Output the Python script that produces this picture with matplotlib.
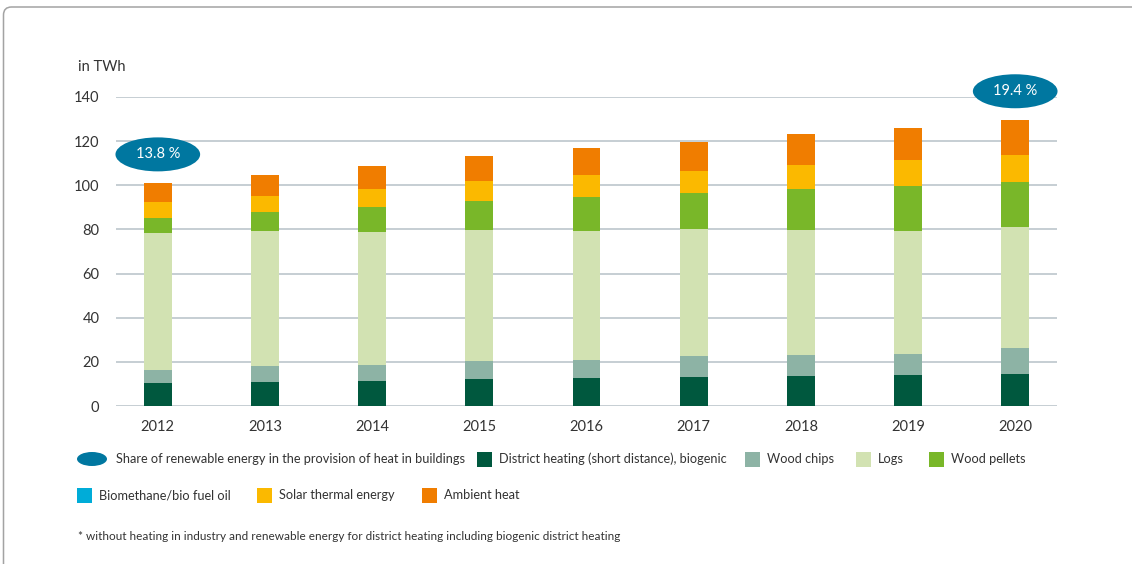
import numpy as np
import matplotlib.pyplot as plt
from matplotlib.patches import Ellipse, FancyBboxPatch, Rectangle

plt.rcParams["font.family"] = ["Lato", "DejaVu Sans"]

# renewable heat in buildings, TWh per year
years = ["2012", "2013", "2014", "2015", "2016", "2017", "2018", "2019", "2020"]
district_heating = [10.6, 10.9, 11.5, 12.2, 12.8, 13.3, 13.7, 14.2, 14.6]
wood_chips = [5.7, 7.2, 7.1, 8.2, 7.9, 9.5, 9.6, 9.2, 11.8]
logs = [62.2, 61.3, 60.3, 59.4, 58.5, 57.6, 56.5, 55.8, 54.6]
wood_pellets = [6.9, 8.3, 11.3, 13.2, 15.7, 15.9, 18.5, 20.6, 20.6]
biomethane = [0, 0, 0, 0, 0, 0, 0, 0, 0]
solar_thermal = [6.9, 7.5, 8.2, 9.0, 9.7, 10.3, 11.0, 11.6, 12.2]
ambient_heat = [8.7, 9.4, 10.4, 11.4, 12.1, 13.1, 13.9, 14.7, 15.8]

# share of renewables in heat provision, shown on first and last year
share_years = ["2012", "2020"]
share_values = [13.8, 19.4]

series = [
    ("District heating (short distance), biogenic", district_heating, "#00583e"),
    ("Wood chips", wood_chips, "#8db3a5"),
    ("Logs", logs, "#d2e2b2"),
    ("Wood pellets", wood_pellets, "#79b729"),
    ("Biomethane/bio fuel oil", biomethane, "#00acd8"),
    ("Solar thermal energy", solar_thermal, "#fbb900"),
    ("Ambient heat", ambient_heat, "#f07d00"),
]

TEXT = "#333333"
GRID = "#c6ced3"
BLUE = "#0077a0"

W, H = 1132, 564
fig = plt.figure(figsize=(W / 100, H / 100), dpi=100)


def fx(px):
    return px / W


def fy(py):
    return 1 - py / H


ax = fig.add_axes([fx(116), fy(406), fx(1057) - fx(116), fy(97) - fy(406)])

x = np.arange(len(years))
bottom = np.zeros(len(years))
for name, vals, color in series:
    vals = np.array(vals, dtype=float)
    ax.bar(x, vals, width=0.26, bottom=bottom, color=color, zorder=3)
    bottom += vals

ax.set_xlim(-0.39, len(years) - 1 + 0.39)
ax.set_ylim(0, 140)
ax.set_yticks(np.arange(0, 141, 20))
ax.set_xticks(x)
ax.set_xticklabels(years)
ax.grid(axis="y", color=GRID, linewidth=1.4, zorder=0)
ax.tick_params(length=0, labelsize=10.5, colors=TEXT)
ax.tick_params(axis="x", pad=10)
ax.tick_params(axis="y", pad=12)
for sp in ax.spines.values():
    sp.set_visible(False)

# share bubbles above the bars
for yr, share in zip(share_years, share_values):
    i = years.index(yr)
    cy = bottom[i] + 13.0
    ax.add_patch(Ellipse((i, cy), 0.79, 15.4, facecolor=BLUE, edgecolor="none",
                         zorder=4, clip_on=False))
    ax.text(i, cy, f"{share:.1f} %", color="white", fontsize=10.5,
            ha="center", va="center", zorder=5, clip_on=False)

fig.text(fx(78), fy(67), "in TWh", fontsize=10.5, color=TEXT, va="center")

# legend, drawn by hand in two rows
fig.patches.append(Ellipse((fx(92), fy(459)), fx(30), 14 / H, facecolor=BLUE,
                           edgecolor="none", transform=fig.transFigure))
fig.text(fx(116), fy(459), "Share of renewable energy in the provision of heat in buildings",
         fontsize=9.2, color=TEXT, va="center")

legend_pos = [(477, 459), (745, 459), (856, 459), (929, 459),
              (77, 495), (257, 495), (422, 495)]
for (name, vals, color), (px, py) in zip(series, legend_pos):
    fig.patches.append(Rectangle((fx(px), fy(py + 7.5)), fx(15), 15 / H,
                                 facecolor=color, edgecolor="none",
                                 transform=fig.transFigure))
    fig.text(fx(px + 22), fy(py), name, fontsize=9.2, color=TEXT, va="center")

fig.text(fx(78), fy(537),
         "* without heating in industry and renewable energy for district heating "
         "including biogenic district heating",
         fontsize=8.5, color=TEXT, va="center")

# outer frame, only top and left edges fall inside the canvas
frame = FancyBboxPatch((0.035, -1.0), 13.0, 1.0 + (H - 7) / 100,
                       boxstyle="round,pad=0,rounding_size=0.08",
                       facecolor="none", edgecolor="#a3a3a3", linewidth=1.1,
                       transform=fig.dpi_scale_trans)
fig.patches.append(frame)

fig.savefig("out.png", dpi=100)
